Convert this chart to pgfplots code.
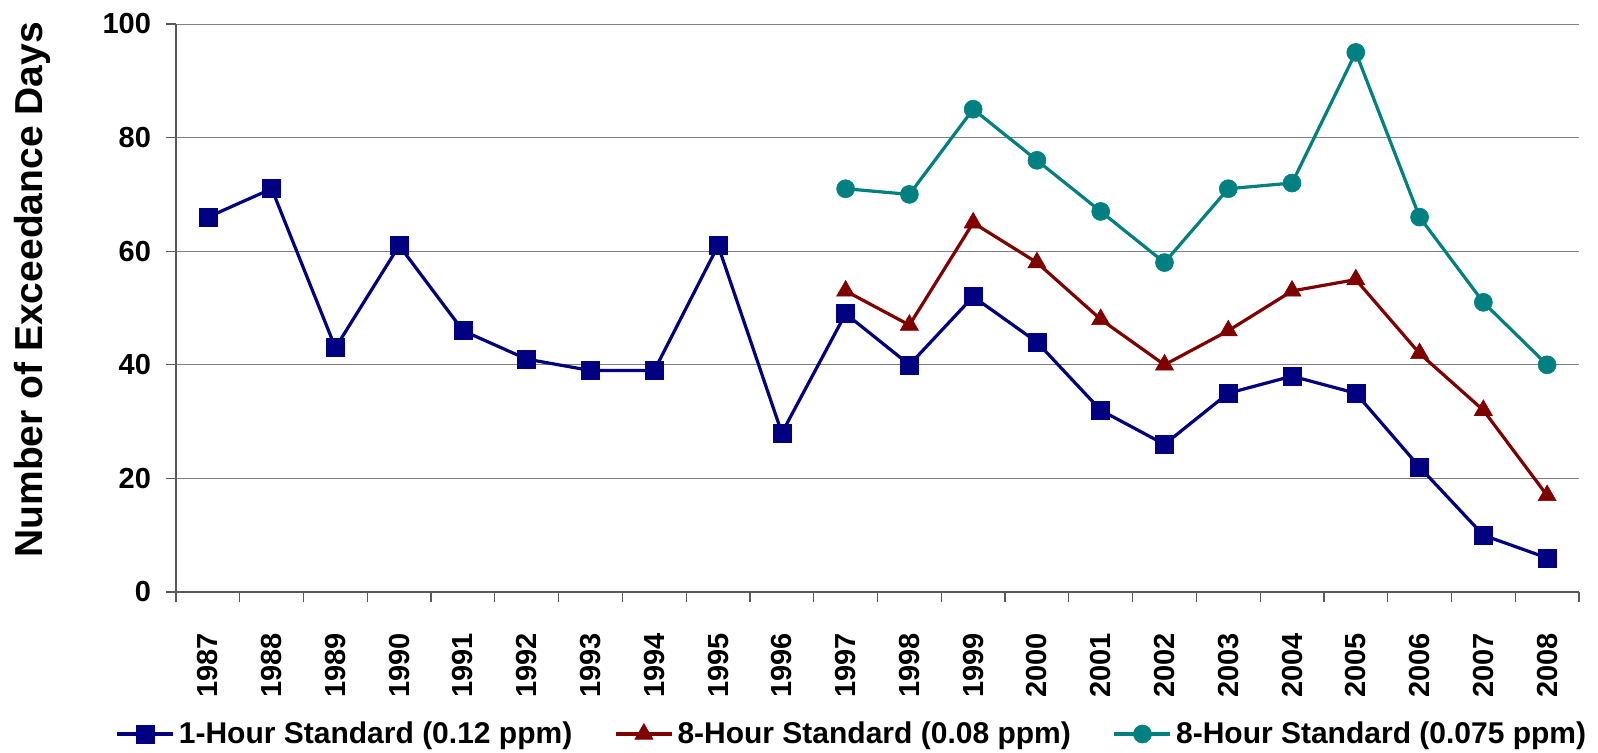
\documentclass[border=0pt]{standalone}
\usepackage{pgfplots}
\pgfplotsset{compat=1.18}
\usepackage{fontspec}
\setmainfont{Liberation Sans}
\definecolor{navyc}{RGB}{0,0,128}
\definecolor{redc}{RGB}{128,0,0}
\definecolor{tealc}{RGB}{0,128,128}
\begin{document}
\begin{tikzpicture}
\begin{axis}[
  scale only axis,
  width=701.5pt, height=284pt,
  xmin=-0.5, xmax=21.5, ymin=0, ymax=100,
  axis x line*=bottom, axis y line*=left,
  axis line style={-, draw=black!65, line width=0.6pt},
  xtick={0,...,21},
  xticklabels={1987,1988,1989,1990,1991,1992,1993,1994,1995,1996,1997,1998,1999,2000,2001,2002,2003,2004,2005,2006,2007,2008},
  major x tick style={draw=none},
  minor xtick={-0.5,0.5,...,21.5},
  minor x tick style={draw=black!65, line width=0.6pt},
  minor tick length=5pt,
  ytick={0,20,...,100},
  major tick length=5pt,
  tick align=outside,
  y tick style={draw=black!65, line width=0.6pt},
  ymajorgrids,
  grid style={draw=black!50, line width=0.5pt},
  xticklabel style={rotate=90, anchor=east, font=\fontsize{14.5pt}{17pt}\selectfont\bfseries, xshift=-12pt},
  yticklabel style={font=\fontsize{14.5pt}{17pt}\selectfont\bfseries, xshift=-4pt},
  /pgf/number format/assume math mode=true,
  ylabel={Number of Exceedance Days},
  ylabel style={font=\fontsize{19.5pt}{21pt}\selectfont\bfseries, at={(axis description cs:-0.1026,0.532)}, anchor=center},
  legend columns=-1,
  legend style={draw=none, at={(axis description cs:0.4825,0)}, anchor=center, yshift=-71pt,
    font=\fontsize{15pt}{17pt}\selectfont\bfseries,
    /tikz/every even column/.append style={column sep=19pt}},
  legend image code/.code={
    \draw[mark repeat=2,mark phase=2,#1] plot coordinates {(0pt,0pt) (14pt,0pt) (28pt,0pt)};
  },
  every axis plot/.append style={line width=1.6pt},
]
\addplot[navyc, mark=square*, mark size=4.5pt, mark options={solid, line width=0.3pt}] coordinates {
(0,66) (1,71) (2,43) (3,61) (4,46) (5,41) (6,39) (7,39) (8,61) (9,28) (10,49)
(11,40) (12,52) (13,44) (14,32) (15,26) (16,35) (17,38) (18,35) (19,22) (20,10) (21,6)};
\addlegendentry{1-Hour Standard (0.12 ppm)}
\addplot[redc, mark=triangle*, mark size=5.2pt, mark options={solid, line width=0.3pt}] coordinates {
(10,53) (11,47) (12,65) (13,58) (14,48) (15,40) (16,46) (17,53) (18,55) (19,42) (20,32) (21,17)};
\addlegendentry{8-Hour Standard (0.08 ppm)}
\addplot[tealc, mark=*, mark size=4.5pt, mark options={solid, line width=0.3pt}] coordinates {
(10,71) (11,70) (12,85) (13,76) (14,67) (15,58) (16,71) (17,72) (18,95) (19,66) (20,51) (21,40)};
\addlegendentry{8-Hour Standard (0.075 ppm)}
\end{axis}
\pgfresetboundingbox
\path (-88pt,-80pt) rectangle (711pt,296pt);
\end{tikzpicture}
\end{document}
